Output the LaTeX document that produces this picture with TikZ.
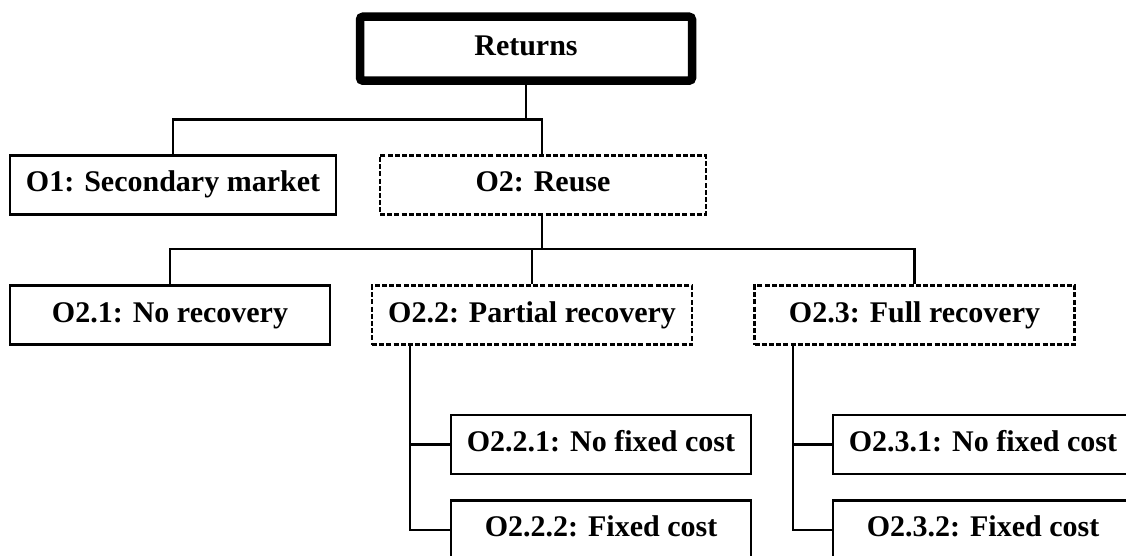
\documentclass[tikz,border=0pt]{standalone}
\usepackage{fontspec}
\setmainfont{Liberation Serif}
\begin{document}
\begin{tikzpicture}[x=1pt,y=-1pt,
  base/.style={rectangle, draw=black, fill=white, inner sep=0pt,
    text height=20pt, text depth=6pt,
    font=\fontsize{30}{36}\selectfont\bfseries},
  solidbox/.style={base, line width=2.6pt},
  dotbox/.style={base, line width=2.8pt, dash pattern=on 5pt off 2.2pt},
  rootbox/.style={base, line width=8.5pt, rounded corners=3pt},
  conn/.style={line width=2.2pt}]
\useasboundingbox (0,0) rectangle (1126,556);
\clip (0,0) rectangle (1126,556);
% nodes
\node[rootbox, minimum width=332pt, minimum height=64pt] (ret) at (526,48.7) {Returns};
\node[solidbox, minimum width=326pt, minimum height=59pt] (o1) at (173,184.8) {O1: Secondary market};
\node[dotbox, minimum width=326pt, minimum height=59pt] (o2) at (543,184.8) {O2: Reuse};
\node[solidbox, minimum width=320pt, minimum height=59pt] (o21) at (170,315) {O2.1: No recovery};
\node[dotbox, minimum width=320pt, minimum height=59pt] (o22) at (532,315) {O2.2: Partial recovery};
\node[dotbox, minimum width=320pt, minimum height=59pt] (o23) at (914.5,315) {O2.3: Full recovery};
\node[solidbox, minimum width=300pt, minimum height=59pt] (o221) at (601,444.5) {O2.2.1: No fixed cost};
\node[solidbox, minimum width=300pt, minimum height=59pt] (o222) at (601,529.7) {O2.2.2: Fixed cost};
\node[solidbox, minimum width=300pt, minimum height=59pt] (o231) at (983,444.5) {O2.3.1: No fixed cost};
\node[solidbox, minimum width=300pt, minimum height=59pt] (o232) at (983,529.7) {O2.3.2: Fixed cost};
% junctions
\coordinate (j1) at (526,119.5);
\coordinate (j2) at (542,249);
\coordinate (s22) at ([xshift=39pt]o22.south west);
\coordinate (s23) at ([xshift=40pt]o23.south west);
% connectors
\draw[conn] (ret.south) -- (j1);
\draw[conn] (j1) -| (o1.north);
\draw[conn] (j1) -| (o2.north -| j2);
\draw[conn] (o2.south -| j2) -- (j2);
\draw[conn] (j2) -| (o21.north);
\draw[conn] (j2) -| (o22.north);
\draw[conn] (j2) -| (o23.north);
\draw[conn] (s22) |- (o221.west);
\draw[conn] (s22) |- (o222.west);
\draw[conn] (s23) |- (o231.west);
\draw[conn] (s23) |- (o232.west);
\end{tikzpicture}
\end{document}
